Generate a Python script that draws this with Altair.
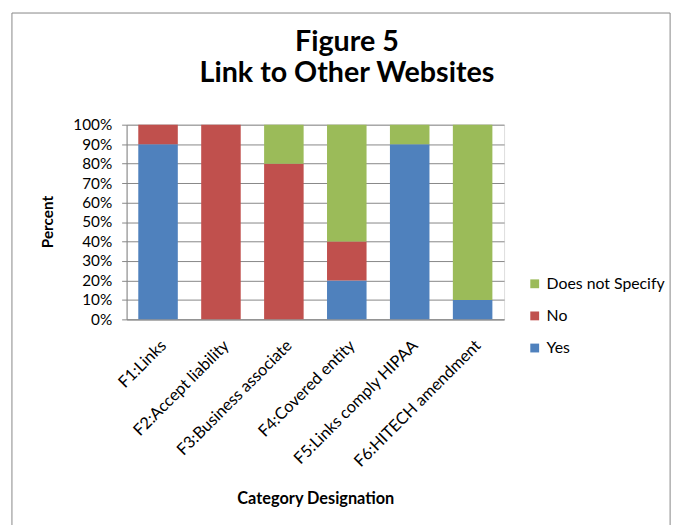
import altair as alt
import pandas as pd

categories = ["F1:Links", "F2:Accept liability", "F3:Business associate",
              "F4:Covered entity", "F5:Links comply HIPAA", "F6:HITECH amendment"]
yes_vals = [90, 0, 0, 20, 90, 10]
no_vals = [10, 100, 80, 20, 0, 0]
dns_vals = [0, 0, 20, 60, 10, 90]
series = ["Yes", "No", "Does not Specify"]
colors = ["#4F81BD", "#C0504D", "#9BBB59"]
y_ticks = [0, 10, 20, 30, 40, 50, 60, 70, 80, 90, 100]

rows = []
for i, c in enumerate(categories):
    for k, (s, vals) in enumerate(zip(series, [yes_vals, no_vals, dns_vals])):
        rows.append({"Category": c, "Series": s, "Value": vals[i], "ord": k})
df = pd.DataFrame(rows)

FONT = "Lato"

bars = alt.Chart(df).mark_bar(size=40).encode(
    x=alt.X("Category:N", sort=categories,
            scale=alt.Scale(paddingInner=0.37, paddingOuter=0.185),
            axis=alt.Axis(title="Category Designation", labelAngle=315,
                          labelAlign="right", labelBaseline="top",
                          labelFontSize=16.5, labelColor="#000000",
                          labelPadding=18, labelFont=FONT,
                          titleFont=FONT, titleFontSize=16.5, titleFontWeight="bold",
                          titleColor="#000000", titleY=173, titleBaseline="top",
                          domainColor="#868686", tickColor="#868686",
                          ticks=False, grid=False)),
    y=alt.Y("Value:Q", stack="zero",
            scale=alt.Scale(domain=[0, 100], nice=False),
            axis=alt.Axis(title="Percent", values=y_ticks,
                          labelExpr="datum.value + '%'",
                          labelFontSize=15.5, labelColor="#000000", labelFont=FONT,
                          labelPadding=10, tickSize=5,
                          tickColor="#868686", domainColor="#868686",
                          gridColor="#868686", gridWidth=1,
                          titleFont=FONT, titleFontSize=15.5, titleFontWeight="bold",
                          titleColor="#000000", titleAngle=270,
                          titleX=-80, titleY=98, titleAlign="center",
                          titleBaseline="middle")),
    color=alt.Color("Series:N",
                    scale=alt.Scale(domain=series, range=colors),
                    sort=["Does not Specify", "No", "Yes"],
                    legend=alt.Legend(title=None, orient="none",
                                      legendX=405, legendY=153,
                                      symbolType="square", symbolSize=80,
                                      symbolStrokeWidth=0,
                                      labelFontSize=16, labelFont=FONT,
                                      labelColor="#000000", rowPadding=16.5,
                                      values=["Does not Specify", "No", "Yes"])),
    order=alt.Order("ord:Q", sort="ascending"),
)

frame = alt.Chart(pd.DataFrame({"a": [0]})).mark_rect(
    fill=None, stroke="#868686", strokeWidth=1, clip=False
).encode(x=alt.value(-116), x2=alt.value(550), y=alt.value(-113), y2=alt.value(420))

chart = alt.layer(frame, bars).properties(
    width=382, height=197,
    title=alt.TitleParams(["Figure 5", "Link to Other Websites"],
                          font=FONT, fontSize=29, fontWeight="bold",
                          color="#000000", anchor="middle", lineHeight=31,
                          offset=-76, dx=32),
    autosize=alt.AutoSizeParams(type="none"),
    padding={"left": 120, "top": 115, "right": 176, "bottom": 205},
).configure_view(stroke=None).configure(background="white")

chart.save("out.html", embed_options={"renderer": "svg", "actions": False})
